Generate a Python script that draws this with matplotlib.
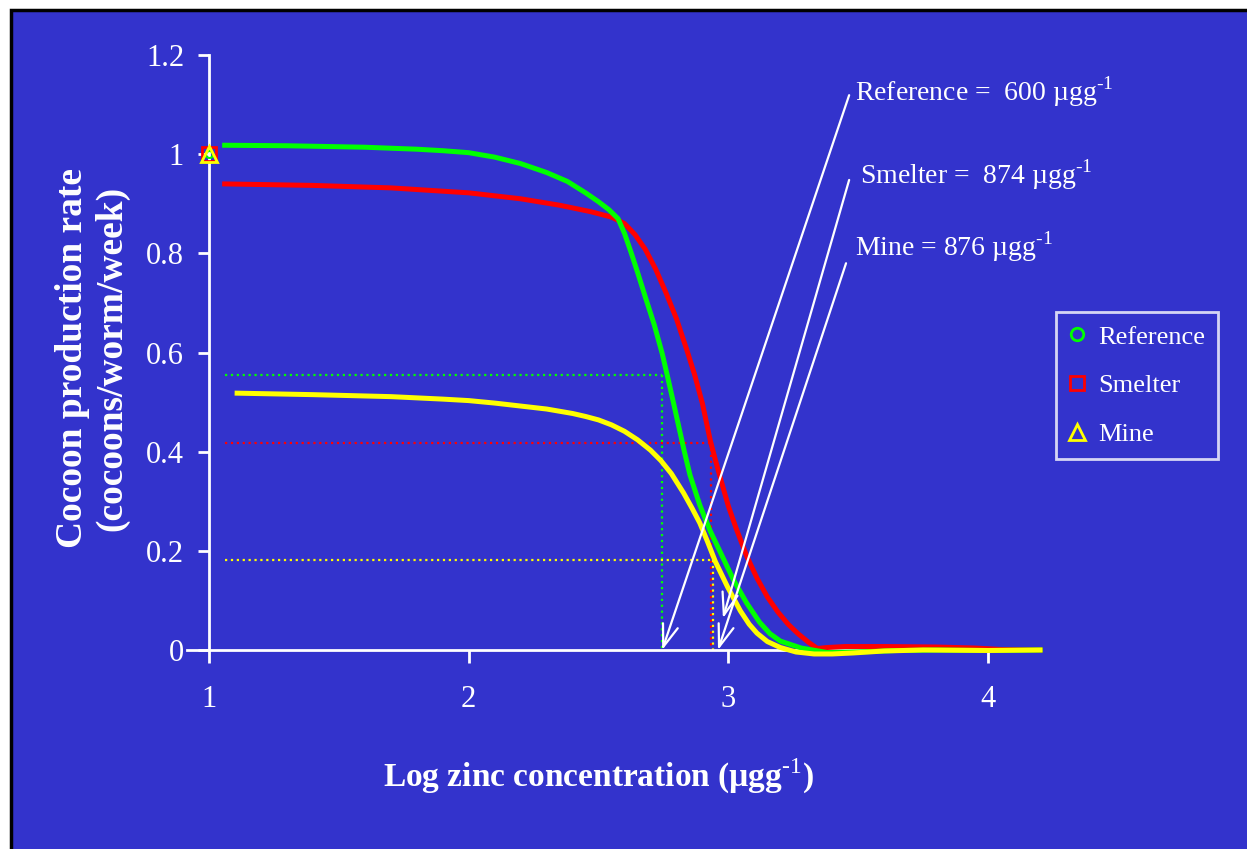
import matplotlib
matplotlib.use("Agg")
import matplotlib.pyplot as plt
from matplotlib.patches import Rectangle
from matplotlib.lines import Line2D

plt.rcParams['font.family'] = ['Liberation Serif', 'DejaVu Serif']
plt.rcParams['mathtext.fontset'] = 'custom'
plt.rcParams['mathtext.rm'] = 'Liberation Serif'
plt.rcParams['mathtext.bf'] = 'Liberation Serif:bold'
plt.rcParams['axes.unicode_minus'] = False

BLUE = '#3333cc'

# fitted response curves (log zinc vs cocoon rate)
ref_x = [1.06, 1.3, 1.6, 1.8, 1.9, 2.0, 2.1, 2.2, 2.3, 2.38, 2.45, 2.5, 2.54, 2.575, 2.6, 2.625,
         2.65, 2.68, 2.715, 2.745, 2.765, 2.79, 2.81, 2.83, 2.852, 2.89, 2.93, 2.98, 3.02, 3.07,
         3.12, 3.16, 3.2, 3.28, 3.38, 3.5, 3.65, 3.8, 4.0, 4.2]
ref_y = [1.018, 1.017, 1.014, 1.01, 1.007, 1.003, 0.994, 0.981, 0.963, 0.945, 0.922, 0.904,
         0.888, 0.87, 0.84, 0.802, 0.762, 0.712, 0.655, 0.598, 0.553, 0.495, 0.448, 0.401, 0.353,
         0.292, 0.24, 0.185, 0.141, 0.095, 0.056, 0.033, 0.018, 0.004, -0.005, -0.004, -0.001,
         0.0, -0.001, 0.0]

sme_x = [1.06, 1.4, 1.7, 2.0, 2.2, 2.35, 2.47, 2.55, 2.6, 2.64, 2.68, 2.72, 2.76, 2.8, 2.84,
         2.87, 2.9, 2.93, 2.95, 2.97, 3.0, 3.03, 3.07, 3.11, 3.15, 3.19, 3.23, 3.27, 3.31, 3.343,
         3.38, 3.45, 3.6, 3.8, 3.95, 4.05, 4.2]
sme_y = [0.94, 0.937, 0.932, 0.922, 0.91, 0.897, 0.884, 0.873, 0.86, 0.838, 0.808, 0.768, 0.72,
         0.668, 0.605, 0.555, 0.497, 0.423, 0.383, 0.345, 0.29, 0.245, 0.19, 0.145, 0.107, 0.077,
         0.052, 0.032, 0.015, 0.003, 0.005, 0.007, 0.007, 0.006, 0.004, 0.001, 0.0]

mine_x = [1.108, 1.4, 1.7, 1.9, 2.0, 2.1, 2.2, 2.3, 2.4, 2.45, 2.5, 2.55, 2.6, 2.65, 2.7, 2.74,
          2.78, 2.827, 2.86, 2.89, 2.92, 2.95, 2.996, 3.046, 3.08, 3.11, 3.15, 3.2, 3.26, 3.33,
          3.4, 3.48, 3.6, 3.75, 4.0, 4.2]
mine_y = [0.518, 0.515, 0.511, 0.506, 0.503, 0.498, 0.492, 0.486, 0.477, 0.471, 0.464, 0.454,
          0.441, 0.424, 0.403, 0.382, 0.356, 0.317, 0.286, 0.256, 0.218, 0.178, 0.128, 0.079,
          0.052, 0.034, 0.017, 0.005, -0.004, -0.008, -0.008, -0.006, -0.002, 0.0, -0.001, 0.0]

# EC50 guide lines: (rate at EC50, log concentration)
ec_rate = [0.554, 0.418, 0.181]
ec_logc = [2.743, 2.934, 2.941]
ec_colors = ['#00ff00', '#ff0000', '#ffff00']

# arrows: tail (x, y) near the labels, head (x, y) at the EC50
arrow_tail = [(3.465, 1.119), (3.465, 0.948), (3.453, 0.780)]
arrow_head = [(2.745, 0.0), (2.979, 0.064), (2.96, 0.0)]
labels = [r'Reference =  600 µgg$^{\text{-1}}$',
          r'Smelter =  874 µgg$^{\text{-1}}$',
          r'Mine = 876 µgg$^{\text{-1}}$']
label_pos = [(855, 92), (860, 175), (855, 247)]

W, H = 1247, 849
fig = plt.figure(figsize=(12.47, 8.49), dpi=100)
fig.patch.set_facecolor('white')
fig.patches.append(Rectangle((10.5 / W, -0.02), 1.05, 1 - 9.5 / H + 0.02,
                             transform=fig.transFigure, facecolor=BLUE,
                             edgecolor='black', linewidth=2.5, zorder=-10))

ax = fig.add_axes([187 / W, 1 - 650 / H, (1040 - 187) / W, (650 - 55) / H])
ax.set_facecolor('none')
ax.set_xlim(0.915, 4.2)
ax.set_ylim(0, 1.2)

for s in ['top', 'right']:
    ax.spines[s].set_visible(False)
ax.spines['left'].set_position(('data', 1))
for s in ['left', 'bottom']:
    ax.spines[s].set_color('white')
    ax.spines[s].set_linewidth(2)

ax.set_xticks([1, 2, 3, 4])
ax.set_yticks([0, 0.2, 0.4, 0.6, 0.8, 1.0, 1.2])
ax.set_yticklabels(['0', '0.2', '0.4', '0.6', '0.8', '1', '1.2'])
ax.tick_params(axis='x', colors='white', direction='out', length=9, width=2,
               labelsize=22, pad=16)
ax.tick_params(axis='y', colors='white', direction='out', length=8, width=2,
               labelsize=22, pad=10)

# dotted EC50 guides
for r, c, col in zip(ec_rate, ec_logc, ec_colors):
    ax.plot([1.06, c], [r, r], color=col, linestyle=':', linewidth=1.6, zorder=2)
    ax.plot([c, c], [r, 0], color=col, linestyle=':', linewidth=1.6, zorder=2)

ax.plot(sme_x, sme_y, color='#ff0000', linewidth=3.6, clip_on=False, zorder=3,
        solid_joinstyle='round')
ax.plot(ref_x, ref_y, color='#00ff00', linewidth=3.6, clip_on=False, zorder=4,
        solid_joinstyle='round')
ax.plot(mine_x, mine_y, color='#ffff00', linewidth=3.6, clip_on=False, zorder=5,
        solid_joinstyle='round')

# observed control points at x = 1
ax.plot([1], [1], marker='s', markersize=10, markerfacecolor='none',
        markeredgecolor='#ff0000', markeredgewidth=2, clip_on=False, zorder=6)
ax.plot([1], [1], marker='o', markersize=5, markerfacecolor='none',
        markeredgecolor='#00ff00', markeredgewidth=1.5, clip_on=False, zorder=7)
ax.plot([1], [1], marker='^', markersize=12, markerfacecolor='none',
        markeredgecolor='#ffff00', markeredgewidth=2, clip_on=False, zorder=8)

for tail, head in zip(arrow_tail, arrow_head):
    ax.annotate('', xy=head, xytext=tail, xycoords='data', textcoords='data',
                arrowprops=dict(arrowstyle='->,head_length=0.8,head_width=0.28',
                                color='white', lw=1.6, shrinkA=0, shrinkB=0,
                                mutation_scale=20),
                annotation_clip=False, zorder=9)

for txt, (px, py) in zip(labels, label_pos):
    fig.text(px / W, 1 - py / H, txt, color='white', fontsize=20,
             ha='left', va='center')

fig.text(598 / W, 1 - 776 / H, r'Log zinc concentration (µgg$^{\mathbf{\text{-1}}}$)',
         color='white', fontsize=24, fontweight='bold', ha='center', va='center')
fig.text(92 / W, 1 - 358 / H, 'Cocoon production rate\n(cocoons/worm/week)',
         color='white', fontsize=27, fontweight='bold', rotation=90,
         ha='center', va='center', linespacing=1.15, multialignment='center')

handles = [Line2D([], [], linestyle='none', marker='o', markersize=9, markerfacecolor='none',
                  markeredgecolor='#00ff00', markeredgewidth=2),
           Line2D([], [], linestyle='none', marker='s', markersize=10, markerfacecolor='none',
                  markeredgecolor='#ff0000', markeredgewidth=2),
           Line2D([], [], linestyle='none', marker='^', markersize=12, markerfacecolor='none',
                  markeredgecolor='#ffff00', markeredgewidth=2)]
leg = fig.legend(handles, ['Reference', 'Smelter', 'Mine'], loc='upper left',
                 bbox_to_anchor=(1056 / W, 1 - 312 / H), fontsize=19,
                 frameon=True, fancybox=False, handlelength=0.6, handletextpad=0.5,
                 labelspacing=0.95, borderpad=0.5, borderaxespad=0)
leg.get_frame().set_facecolor('none')
leg.get_frame().set_edgecolor('white')
leg.get_frame().set_linewidth(2)
for t in leg.get_texts():
    t.set_color('white')

fig.savefig('out.png', dpi=100, facecolor=fig.get_facecolor())
